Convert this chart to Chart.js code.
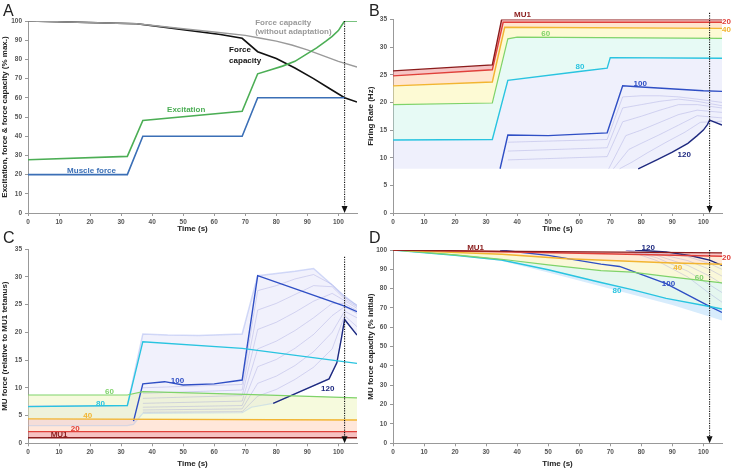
<!DOCTYPE html>
<html>
<head>
<meta charset="utf-8">
<script src="https://cdn.jsdelivr.net/npm/chart.js@4.4.0/dist/chart.umd.min.js"></script>
<style>
body { margin: 0; background: #fff; width: 733px; height: 470px; position: relative; overflow: hidden; font-family: "Liberation Sans", Arial, sans-serif; }
canvas { position: absolute; }
.letter { position: absolute; font-size: 16px; line-height: 16px; color: #222; }
</style>
</head>
<body>
<canvas id="chartA" width="366" height="235" style="left:0;top:0"></canvas>
<canvas id="chartB" width="367" height="235" style="left:366px;top:0"></canvas>
<canvas id="chartC" width="366" height="235" style="left:0;top:235px"></canvas>
<canvas id="chartD" width="367" height="235" style="left:366px;top:235px"></canvas>
<div class="letter" style="left:3px;top:3px">A</div>
<div class="letter" style="left:369px;top:3px">B</div>
<div class="letter" style="left:3px;top:230px">C</div>
<div class="letter" style="left:369px;top:230px">D</div>
<script>
// A: excitation, muscle force and force capacity (% max)
var timeForce = [0, 32, 37, 69, 74, 102];
var muscleForce = [20, 20, 40, 40, 60, 60];
var timeExcitation = [0, 32, 37, 69, 74, 78, 82, 86, 90, 93, 96, 98, 100, 101, 102, 106];
var excitation = [27.7, 29.5, 48.2, 53, 72.5, 74.5, 76.5, 79, 83, 86, 89.5, 92, 95, 97.5, 100, 100];
var timeCapacity = [0, 35, 50, 62, 69, 74, 80, 86, 92, 97, 102, 106];
var forceCapacity = [100, 98.6, 95.5, 93, 91, 84, 80.5, 75.5, 70, 65, 60, 57.8];
var timeNoAdapt = [0, 35, 50, 60, 70, 75, 80, 85, 90, 95, 100, 106];
var capacityNoAdapt = [100, 98.6, 96, 94.3, 92.5, 91, 89.5, 87.5, 85, 82, 79, 76];

// B: firing rate (Hz) of MU1, 20, 40, 60, 80, 100, 120
var rateTimeMU1 = [0, 32, 35, 106];
var rateMU1 = [25.7, 26.8, 35, 35];
var rateTime20 = [0, 32, 35.5, 106];
var rate20 = [24.8, 25.9, 34.5, 34.5];
var rateTime40 = [0, 32, 36, 106];
var rate40 = [23.0, 23.7, 33.6, 33.4];
var rateTime60 = [0, 32, 37, 40, 106];
var rate60 = [19.6, 19.9, 31.5, 31.8, 31.6];
var rateTime80 = [0, 32, 37, 60, 69, 70, 106];
var rate80 = [13.2, 13.3, 24, 25.6, 26.2, 28.1, 28];
var rateTime100 = [34.5, 37, 50, 69, 74, 80, 100, 106];
var rate100 = [8, 14.1, 14, 14.5, 23, 22.8, 22.1, 22];
var rateTime120 = [79, 85, 90, 95, 98, 100, 101.3, 102, 106];
var rate120 = [8, 9.6, 11, 12.6, 14, 15, 16, 16.8, 15.9];
var recruitRate = 8;
// some of the faint MUs between 100 and 120
var rateFaintTime = [37, 69, 74, 80, 86, 92, 98, 106];
var rateFaintA = [12.8, 13.3, 21, 21.2, 21.2, 21, 20.6, 20];
var rateFaintB = [11.2, 11.8, 19, 19.6, 20.2, 20.6, 20.2, 19.4];
var rateFaintC = [9.6, 10.2, 16.5, 17.5, 18.6, 19.6, 19.6, 19];
var rateLateTimeD = [69.5, 75, 80, 86, 92, 98, 106];
var rateFaintD = [8, 14, 15, 16.4, 17.8, 18.6, 18.2];
var rateLateTimeE = [71, 76, 80, 86, 92, 98, 106];
var rateFaintE = [8, 11.5, 12.6, 14.2, 15.9, 17.6, 17.2];
var rateLateTimeF = [73, 77, 82, 88, 94, 99, 106];
var rateFaintF = [8, 9.2, 10.9, 12.8, 14.6, 16.4, 16.6];

// C: MU force (relative to MU1 tetanus)
var forceTimeFlat = [0, 106];
var forceMU1 = [1, 1];
var force20 = [2.1, 2.1];
var force40 = [4.4, 4.2];
var forceTime60 = [0, 32, 37, 70, 106];
var force60 = [8.7, 8.7, 9.3, 8.8, 8.2];
var forceTime80 = [0, 32, 37, 69, 106];
var force80 = [6.6, 6.8, 18.3, 17.1, 14.4];
var forceTime100 = [34, 37, 44, 50, 60, 69, 74, 102, 106];
var force100 = [4.0, 10.7, 11.1, 10.5, 10.7, 11.4, 30.2, 24.7, 23.7];
var forceTime120 = [79, 97, 99.5, 101, 102, 106];
var force120 = [7.2, 11.6, 14.5, 19, 22.3, 19.5];
var forceTopTime = [0, 32, 37, 45, 55, 69, 74, 80, 86, 92, 97, 102, 106];
var forceTop = [6.7, 6.8, 19.7, 19.5, 19.4, 19.7, 30.2, 30.6, 31, 31.5, 29, 26.5, 24.8];
var forceBottomTime = [0, 32, 34, 37, 69, 72, 79, 97, 99.5, 101, 102, 106];
var forceBottom = [3.2, 3.2, 3.4, 5.4, 5.5, 6.5, 7.2, 11.6, 14.5, 19, 22.3, 19.5];
// some of the faint MUs between 100 and 120
var forceFaintTime = [37, 69, 74, 80, 86, 92, 98, 102, 106];
var forceFaintA = [10, 10.6, 27.5, 28.4, 29.6, 30.4, 28.6, 26.3, 24.9];
var forceFaintB = [9, 9.6, 24, 25.2, 26.8, 28.4, 28.2, 26, 24.6];
var forceFaintC = [8.1, 8.6, 20.5, 21.8, 23.6, 25.6, 27, 25.7, 24.3];
var forceFaintD = [7.2, 7.6, 17, 18.4, 20.3, 22.6, 25.2, 25.2, 23.9];
var forceFaintE = [6.5, 6.8, 13.8, 15.1, 17.1, 19.6, 23, 24.6, 23.4];
var forceFaintF = [6, 6.2, 10.8, 12.1, 14, 16.5, 20, 23.8, 22.6];
var forceFaintG = [5.6, 5.7, 8.5, 9.7, 11.5, 13.7, 17, 23, 21];

// D: MU force capacity (% initial)
var capTimeMU1 = [0, 30, 106];
var capMU1 = [100, 99.4, 98.5];
var capTime20 = [0, 30, 60, 106];
var cap20 = [100, 99.2, 98.3, 96.8];
var capTime40 = [0, 35, 56, 88, 106];
var cap40 = [100, 97.8, 95.5, 93.4, 92.6];
var capTime60 = [0, 20, 35, 50, 67, 77, 88, 106];
var cap60 = [100, 97.5, 95.2, 92.3, 89.3, 88.6, 86.4, 83];
var capTime80 = [0, 20, 35, 50, 67, 77, 88, 102, 106];
var cap80 = [100, 97.3, 94.8, 89.8, 83.2, 79.5, 75, 70.8, 69.5];
var capTime100 = [34.5, 50, 67, 73, 88, 102, 106];
var cap100 = [100, 97.2, 92.7, 91.5, 82.6, 70.8, 67.7];
var capTime120 = [78, 88, 96, 102, 106];
var cap120 = [100, 99, 97, 94.8, 92];
var capLowTime = [0, 20, 35, 50, 70, 90, 106];
var capLow = [100, 97, 94.3, 88.3, 80, 71.5, 63.5];
// some of the faint MUs between 100 and 120
var capFaintTime = [75, 85, 95, 102, 106];
var capFaintA = [100, 99, 96.5, 93, 90];
var capFaintB = [100, 98.2, 94.5, 90, 86.5];
var capFaintC = [100, 97.2, 92, 86.5, 82.5];
var capFaintD = [100, 96, 89, 82, 78];
var capFaintE = [100, 94.5, 86, 77.5, 73];

var endTime = 102;
var FONT = '"Liberation Sans", Arial, sans-serif';
var FAINT = 'rgba(140,140,215,0.45)';

var pts = function (t, y) {
    return t.map(function (v, i) { return { x: v, y: y[i] }; });
};

var line = function (data, color, width, fill) {
    return {
        data: data,
        borderColor: color,
        borderWidth: width,
        pointRadius: 0,
        tension: 0,
        fill: fill || false
    };
};

var faint = function (t, y) {
    return line(pts(t, y), FAINT, 0.7);
};

var band = function (target, color) {
    return { target: target, above: color, below: color };
};

var notesPlugin = {
    id: 'notes',
    afterDatasetsDraw: function (chart, args, opts) {
        var ctx = chart.ctx, xs = chart.scales.x, ys = chart.scales.y;
        var ax = xs.getPixelForValue(opts.arrowX);
        var top = ys.getPixelForValue(opts.arrowTop);
        var bot = ys.bottom;
        ctx.save();
        ctx.strokeStyle = '#111';
        ctx.lineWidth = 1.1;
        ctx.setLineDash([1.2, 1.2]);
        ctx.beginPath();
        ctx.moveTo(ax, top);
        ctx.lineTo(ax, bot - 6);
        ctx.stroke();
        ctx.setLineDash([]);
        ctx.fillStyle = '#111';
        ctx.beginPath();
        ctx.moveTo(ax - 3, bot - 7);
        ctx.lineTo(ax + 3, bot - 7);
        ctx.lineTo(ax, bot);
        ctx.closePath();
        ctx.fill();
        ctx.font = 'bold 8px ' + FONT;
        ctx.textBaseline = 'middle';
        ctx.textAlign = 'left';
        opts.labels.forEach(function (l) {
            ctx.fillStyle = l.color;
            ctx.fillText(l.text, xs.getPixelForValue(l.x), ys.getPixelForValue(l.y));
        });
        ctx.restore();
    }
};

var makeChart = function (id, cfg) {
    var tickFont = { family: FONT, size: 6.5, weight: 'bold' };
    var titleFont = { family: FONT, size: 8, weight: 'bold' };
    return new Chart(document.getElementById(id), {
        type: 'line',
        data: { datasets: cfg.datasets },
        plugins: [notesPlugin],
        options: {
            responsive: false,
            animation: false,
            events: [],
            layout: { padding: { top: cfg.top, right: cfg.right, left: 0, bottom: 0 } },
            plugins: {
                legend: { display: false },
                tooltip: { enabled: false },
                filler: { drawTime: 'beforeDatasetsDraw' },
                notes: { arrowX: endTime, arrowTop: cfg.arrowTop, labels: cfg.labels }
            },
            scales: {
                x: {
                    type: 'linear', min: 0, max: 106,
                    ticks: { stepSize: 10, includeBounds: false, color: '#555', font: tickFont, padding: 2, maxRotation: 0 },
                    grid: { drawOnChartArea: false, tickLength: 3, color: '#999' },
                    border: { color: '#999' },
                    title: { display: true, text: 'Time (s)', color: '#222', font: titleFont, padding: { top: 0, bottom: 1 } },
                    afterFit: function (s) { s.height = cfg.xHeight; }
                },
                y: {
                    type: 'linear', min: 0, max: cfg.yMax,
                    ticks: { stepSize: cfg.yStep, includeBounds: false, color: '#555', font: tickFont, padding: 3 },
                    grid: { drawOnChartArea: false, tickLength: 3, color: '#999' },
                    border: { color: '#999' },
                    title: { display: true, text: cfg.yTitle, color: '#222', font: titleFont, padding: { top: 0, bottom: 0 } },
                    afterFit: function (s) { s.width = cfg.yWidth; }
                }
            }
        }
    });
};

// A
makeChart('chartA', {
    top: 21, right: 9, xHeight: 22, yWidth: 28, yMax: 100, yStep: 10, arrowTop: 100,
    yTitle: 'Excitation, force & force capacity (% max.)',
    datasets: [
        line(pts(timeForce, muscleForce), '#3b6fb6', 1.6),
        line(pts(timeExcitation, excitation), '#4cae55', 1.6),
        line(pts(timeNoAdapt, capacityNoAdapt), '#9a9a9a', 1.4),
        line(pts(timeCapacity, forceCapacity), '#111', 1.6)
    ],
    labels: [
        { text: 'Force capacity', x: 73.2, y: 99, color: '#9a9a9a' },
        { text: '(without adaptation)', x: 73.2, y: 94.2, color: '#9a9a9a' },
        { text: 'Force', x: 64.8, y: 85, color: '#111' },
        { text: 'capacity', x: 64.8, y: 79.2, color: '#111' },
        { text: 'Excitation', x: 44.8, y: 53.7, color: '#4cae55' },
        { text: 'Muscle force', x: 12.6, y: 22, color: '#3b6fb6' }
    ]
});

// B
makeChart('chartB', {
    top: 19.5, right: 11, xHeight: 22, yWidth: 27, yMax: 35, yStep: 5, arrowTop: 36.2,
    yTitle: 'Firing Rate (Hz)',
    datasets: [
        line(pts(rateTimeMU1, rateMU1), '#8b1c1c', 1.4, band(1, 'rgba(230,90,90,0.35)')),
        line(pts(rateTime20, rate20), '#e0403a', 1.4, band(2, 'rgba(255,180,120,0.35)')),
        line(pts(rateTime40, rate40), '#f2b531', 1.4, band(3, 'rgba(250,245,160,0.45)')),
        line(pts(rateTime60, rate60), '#7fd36a', 1.2, band(4, 'rgba(185,240,225,0.35)')),
        line(pts(rateTime80, rate80), '#29c4e0', 1.4, band(7, 'rgba(175,180,238,0.2)')),
        line(pts(rateTime100, rate100), '#2f4fc5', 1.4),
        line(pts(rateTime120, rate120), '#1f2a80', 1.4),
        line(pts([0].concat(rateTime120), [recruitRate].concat(rate120)), 'rgba(0,0,0,0)', 0),
        faint(rateFaintTime, rateFaintA),
        faint(rateFaintTime, rateFaintB),
        faint(rateFaintTime, rateFaintC),
        faint(rateLateTimeD, rateFaintD),
        faint(rateLateTimeE, rateFaintE),
        faint(rateLateTimeF, rateFaintF)
    ],
    labels: [
        { text: 'MU1', x: 39, y: 35.8, color: '#8b1c1c' },
        { text: '20', x: 106, y: 34.5, color: '#e0403a' },
        { text: '40', x: 106, y: 33.2, color: '#f2b531' },
        { text: '60', x: 47.8, y: 32.4, color: '#7fd36a' },
        { text: '80', x: 58.8, y: 26.4, color: '#29c4e0' },
        { text: '100', x: 77.5, y: 23.4, color: '#2f4fc5' },
        { text: '120', x: 91.7, y: 10.5, color: '#1f2a80' }
    ]
});

// C
makeChart('chartC', {
    top: 14, right: 9, xHeight: 26.7, yWidth: 28, yMax: 35, yStep: 5, arrowTop: 33.6,
    yTitle: 'MU force (relative to MU1 tetanus)',
    datasets: [
        line(pts(forceTimeFlat, forceMU1), '#8b1c1c', 1.4, band(1, 'rgba(235,100,100,0.4)')),
        line(pts(forceTimeFlat, force20), '#e0403a', 1.4, band(2, 'rgba(255,185,150,0.35)')),
        line(pts(forceTimeFlat, force40), '#f2b531', 1.4, band(3, 'rgba(235,245,180,0.45)')),
        line(pts(forceTime60, force60), '#7fd36a', 1.2),
        line(pts(forceTime80, force80), '#29c4e0', 1.4),
        line(pts(forceTime100, force100), '#2f4fc5', 1.4),
        line(pts(forceTime120, force120), '#1f2a80', 1.4),
        line(pts(forceTopTime, forceTop), 'rgba(160,175,240,0.45)', 1.5, band(8, 'rgba(175,180,238,0.18)')),
        line(pts(forceBottomTime, forceBottom), 'rgba(150,190,240,0.35)', 1.2),
        faint(forceFaintTime, forceFaintA),
        faint(forceFaintTime, forceFaintB),
        faint(forceFaintTime, forceFaintC),
        faint(forceFaintTime, forceFaintD),
        faint(forceFaintTime, forceFaintE),
        faint(forceFaintTime, forceFaintF),
        faint(forceFaintTime, forceFaintG)
    ],
    labels: [
        { text: '60', x: 24.8, y: 9.3, color: '#7fd36a' },
        { text: '80', x: 21.9, y: 7.2, color: '#29c4e0' },
        { text: '40', x: 17.8, y: 5.0, color: '#f2b531' },
        { text: '20', x: 13.8, y: 2.7, color: '#e0403a' },
        { text: 'MU1', x: 7.3, y: 1.5, color: '#8b1c1c' },
        { text: '100', x: 46, y: 11.3, color: '#2f4fc5' },
        { text: '120', x: 94.4, y: 9.8, color: '#1f2a80' }
    ]
});

// D
makeChart('chartD', {
    top: 15, right: 11, xHeight: 26.7, yWidth: 27, yMax: 100, yStep: 10, arrowTop: 100,
    yTitle: 'MU force capacity (% initial)',
    datasets: [
        line(pts(capTimeMU1, capMU1), '#8b1c1c', 1.4, band(1, 'rgba(235,100,100,0.35)')),
        line(pts(capTime20, cap20), '#e0403a', 1.4, band(2, 'rgba(255,195,140,0.35)')),
        line(pts(capTime40, cap40), '#f2b531', 1.4, band(3, 'rgba(245,240,170,0.45)')),
        line(pts(capTime60, cap60), '#7fd36a', 1.2, band(4, 'rgba(190,235,215,0.4)')),
        line(pts(capTime80, cap80), '#29c4e0', 1.4, band(7, 'rgba(140,200,245,0.35)')),
        line(pts(capTime100, cap100), '#2f4fc5', 1.4),
        line(pts(capTime120, cap120), '#1f2a80', 1.4),
        line(pts(capLowTime, capLow), 'rgba(0,0,0,0)', 0),
        faint(capFaintTime, capFaintA),
        faint(capFaintTime, capFaintB),
        faint(capFaintTime, capFaintC),
        faint(capFaintTime, capFaintD),
        faint(capFaintTime, capFaintE)
    ],
    labels: [
        { text: 'MU1', x: 23.9, y: 101, color: '#8b1c1c' },
        { text: '120', x: 80.1, y: 101, color: '#1f2a80' },
        { text: '20', x: 106, y: 96.2, color: '#e0403a' },
        { text: '40', x: 90.3, y: 91, color: '#f2b531' },
        { text: '60', x: 97.2, y: 85.8, color: '#7fd36a' },
        { text: '100', x: 86.6, y: 82.5, color: '#2f4fc5' },
        { text: '80', x: 70.7, y: 79, color: '#29c4e0' }
    ]
});
</script>
</body>
</html>
